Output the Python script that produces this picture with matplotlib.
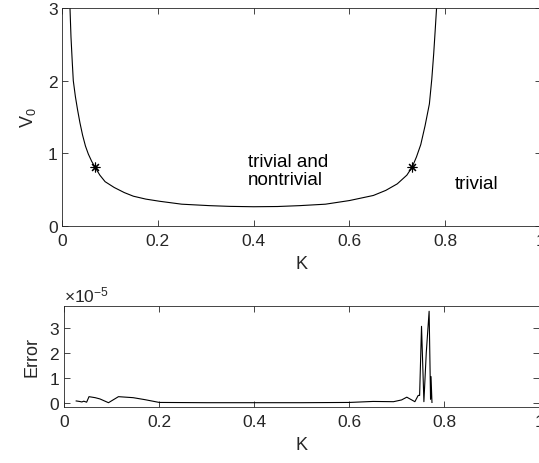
import matplotlib
matplotlib.use('Agg')
import matplotlib.pyplot as plt
from matplotlib.ticker import ScalarFormatter, FuncFormatter

plt.rcParams['font.family'] = ['Liberation Sans', 'DejaVu Sans']
plt.rcParams['mathtext.fontset'] = 'custom'
plt.rcParams['mathtext.rm'] = 'Liberation Sans'
plt.rcParams['mathtext.it'] = 'Liberation Sans'

# V0 boundary curve
k_curve = [0.014, 0.0167, 0.0188, 0.0215, 0.0236, 0.028, 0.0325, 0.0375, 0.043, 0.049,
           0.055, 0.062, 0.069, 0.079, 0.09, 0.109, 0.13, 0.149, 0.175, 0.204, 0.25,
           0.308, 0.35, 0.40, 0.45, 0.496, 0.55, 0.60, 0.65, 0.676, 0.70, 0.72,
           0.731, 0.74, 0.749, 0.758, 0.767, 0.772, 0.776, 0.779, 0.782, 0.786]
v_curve = [3.6, 3.0, 2.6, 2.25, 2.0, 1.78, 1.6, 1.42, 1.25, 1.1,
           0.99, 0.89, 0.81, 0.70, 0.61, 0.53, 0.46, 0.41, 0.37, 0.34, 0.30,
           0.28, 0.27, 0.265, 0.268, 0.28, 0.30, 0.35, 0.42, 0.49, 0.58, 0.70,
           0.81, 0.95, 1.12, 1.38, 1.68, 2.02, 2.37, 2.68, 3.0, 3.45]

# marked points
k_mark = [0.069, 0.731]
v_mark = [0.81, 0.81]

# numerical error
k_err = [0.025, 0.032, 0.037, 0.041, 0.047, 0.052, 0.065, 0.075, 0.093, 0.114, 0.145,
         0.17, 0.2, 0.3, 0.4, 0.5, 0.6, 0.65, 0.693, 0.71, 0.721, 0.738, 0.745,
         0.748, 0.752, 0.757, 0.762, 0.768, 0.771, 0.772, 0.774]
err = [0.08, 0.06, 0.04, 0.07, 0.03, 0.25, 0.21, 0.16, 0.01, 0.25, 0.21,
       0.13, 0.02, 0.01, 0.01, 0.01, 0.02, 0.06, 0.05, 0.12, 0.23, 0.05, 0.30,
       0.30, 3.05, 0.05, 2.0, 3.65, 0.15, 1.05, 0.02]
err = [e * 1e-5 for e in err]

x_ticks = [0, 0.2, 0.4, 0.6, 0.8, 1]
axis_col = '#262626'

fig = plt.figure(figsize=(5.39, 4.64), dpi=100)
ax1 = fig.add_axes([0.115, 0.5108, 0.8887, 0.4698])
ax2 = fig.add_axes([0.1193, 0.1213, 0.8813, 0.2171])

fmt = FuncFormatter(lambda v, p: '%g' % round(v, 6))

for ax in (ax1, ax2):
    ax.set_xlim(0, 1)
    ax.set_xticks(x_ticks)
    ax.xaxis.set_major_formatter(fmt)
    ax.tick_params(direction='in', top=True, right=True, length=4, width=0.6,
                   labelsize=12.5, colors=axis_col, pad=3)
    ax.tick_params(axis='x', pad=5)
    for s in ax.spines.values():
        s.set_color(axis_col)
        s.set_linewidth(0.6)

# top panel
ax1.plot(k_curve, v_curve, color='black', lw=0.8)
ax1.plot(k_mark, v_mark, linestyle='none', marker=(8, 2, 0), markersize=7,
         color='black', mew=0.8)
ax1.set_ylim(0, 3)
ax1.set_yticks([0, 1, 2, 3])
ax1.yaxis.set_major_formatter(fmt)
ax1.set_xlabel('K', fontsize=13, color=axis_col, labelpad=5)
ax1.set_ylabel('V$_0$', fontsize=13, color=axis_col, labelpad=7)
ax1.text(0.388, 0.76, 'trivial and\nnontrivial', fontsize=13.5, va='center', ha='left',
         linespacing=1.05)
ax1.text(0.82, 0.58, 'trivial', fontsize=13.5, va='center', ha='left')

# bottom panel
ax2.plot(k_err, err, color='black', lw=0.8)
ax2.set_ylim(-0.15e-5, 3.86e-5)
ax2.set_yticks([0, 1e-5, 2e-5, 3e-5])
sf = ScalarFormatter(useMathText=True)
sf.set_powerlimits((0, 0))
ax2.yaxis.set_major_formatter(sf)
ax2.yaxis.get_offset_text().set_fontsize(12.5)
ax2.yaxis.get_offset_text().set_color(axis_col)
ax2.set_xlabel('K', fontsize=13, color=axis_col, labelpad=5)
ax2.set_ylabel('Error', fontsize=13, color=axis_col, labelpad=6)

fig.savefig('out.png', dpi=100)
